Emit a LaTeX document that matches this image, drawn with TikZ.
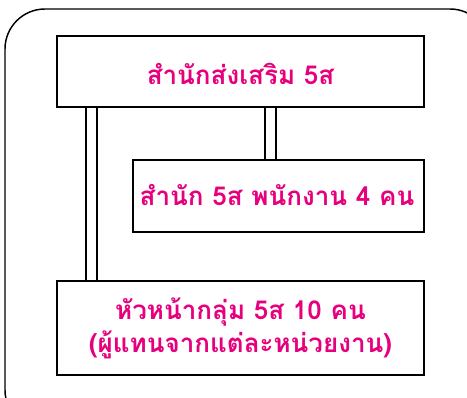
\documentclass[tikz,border=0pt]{standalone}
\usepackage{fontspec}
\newfontfamily\thaifont[Script=Thai]{Loma}
\definecolor{pinktxt}{RGB}{230,0,126}
\begin{document}
\begin{tikzpicture}[x=0.75pt,y=-0.75pt,
  box/.style={draw=black,line width=2.2pt,fill=white,inner sep=0pt},
  lbl/.style={text=pinktxt,font=\thaifont\bfseries\fontsize{19.5}{25}\selectfont,align=center},
  rail/.style={draw=black,line width=1.6pt}]
\useasboundingbox (0,0) rectangle (467,397);
\draw[line width=1.1pt,rounded corners=30pt] (5,9) rectangle (490,430);
% rails
\coordinate (l1t) at (86,107); \coordinate (l1b) at (86,281);
\coordinate (l2t) at (97,107); \coordinate (l2b) at (97,281);
\coordinate (m1t) at (265,107); \coordinate (m1b) at (265,160);
\coordinate (m2t) at (276,107); \coordinate (m2b) at (276,160);
\draw[rail] (l1t) -- (l1b); \draw[rail] (l2t) -- (l2b);
\draw[rail] (m1t) -- (m1b); \draw[rail] (m2t) -- (m2b);
\draw[box] (57,36) rectangle (424,107);
\draw[box] (133,160) rectangle (424,232);
\draw[box] (57,281) rectangle (424,375);
\node[lbl] (top) at (240.5,74) {สำนักส่งเสริม 5ส};
\node[lbl] (mid) at (277,195) {สำนัก 5ส พนักงาน 4 คน};
\node[lbl] (bot) at (240.5,328) {หัวหน้ากลุ่ม 5ส 10 คน\\(ผู้แทนจากแต่ละหน่วยงาน)};
\end{tikzpicture}
\end{document}
